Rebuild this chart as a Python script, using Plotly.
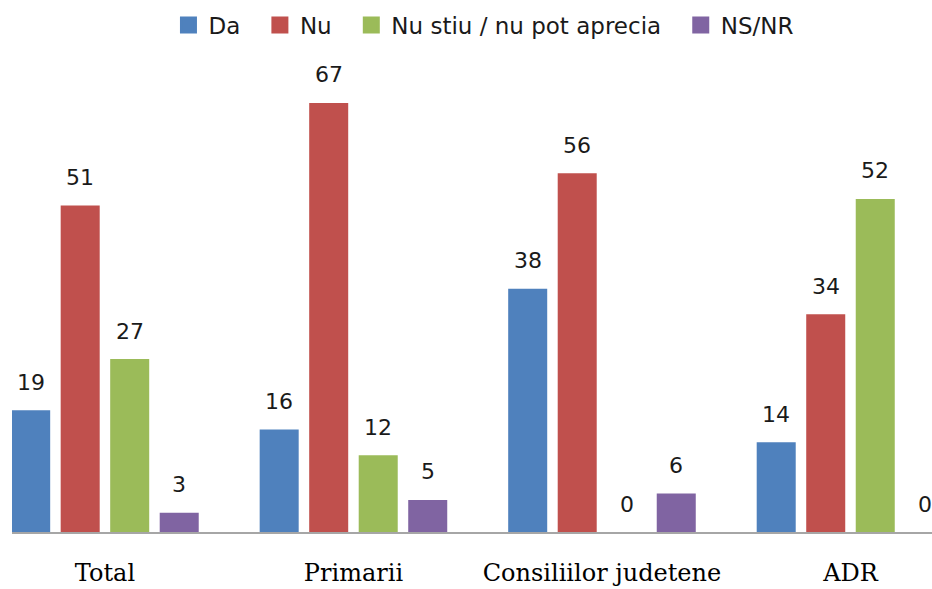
import plotly.graph_objects as go

categories = ["Total", "Primarii", "Consiliilor judetene", "ADR"]
series_names = ["Da", "Nu", "Nu stiu / nu pot aprecia", "NS/NR"]
da = [19, 16, 38, 14]
nu = [51, 67, 56, 34]
nu_stiu = [27, 12, 0, 52]
ns_nr = [3, 5, 6, 0]
colors = ["#4F81BD", "#C0504D", "#9BBB59", "#8064A2"]

all_values = [da, nu, nu_stiu, ns_nr]

BARGAP = 0.203
GROUPGAP = 0.212
SANS = "DejaVu Sans, sans-serif"

fig = go.Figure()
for name, vals, col in zip(series_names, all_values, colors):
    fig.add_trace(go.Bar(
        x=categories, y=vals, name=name, showlegend=False,
        marker=dict(color=col, line=dict(width=0)),
    ))

# legend entries (square markers like the reference)
for k, (name, col) in enumerate(zip(series_names, colors)):
    label = name + ("\u00a0\u00a0" if k < len(series_names) - 1 else "")
    fig.add_trace(go.Scatter(
        x=[None], y=[None], mode="markers", name=label,
        marker=dict(symbol="square", size=14, color=col, line=dict(width=3, color=col)),
    ))

# data labels placed above each bar
n = len(series_names)
slot = (1 - BARGAP) / n
annotations = []
for j, vals in enumerate(all_values):
    for i, v in enumerate(vals):
        annotations.append(dict(
            x=i + (j - (n - 1) / 2) * slot, y=v, xref="x", yref="y",
            text=str(v), showarrow=False, yanchor="middle", yshift=28,
            font=dict(family=SANS, size=22, color="#1a1a1a"),
        ))

fig.update_layout(
    width=932, height=589,
    margin=dict(l=12, r=0, t=60, b=57),
    paper_bgcolor="white", plot_bgcolor="white",
    barmode="group", bargap=BARGAP, bargroupgap=GROUPGAP,
    showlegend=True,
    legend=dict(orientation="h", x=0.513, xanchor="center", y=1.074, yanchor="middle",
                font=dict(family=SANS, size=23, color="#1a1a1a"),
                itemwidth=30, traceorder="normal"),
    annotations=annotations,
    xaxis=dict(range=[-0.374, 3.328], showline=True, linecolor="#A6A6A6", linewidth=2,
               showgrid=False, zeroline=False, ticks="",
               tickfont=dict(family="DejaVu Serif, serif", size=24, color="black"),
               ticklabelstandoff=18, automargin=False),
    yaxis=dict(range=[0, 73.7], visible=False, showgrid=False, zeroline=False),
)

fig.write_html("out.html", config={"displayModeBar": False},
               post_script="document.body.style.margin='0';")
